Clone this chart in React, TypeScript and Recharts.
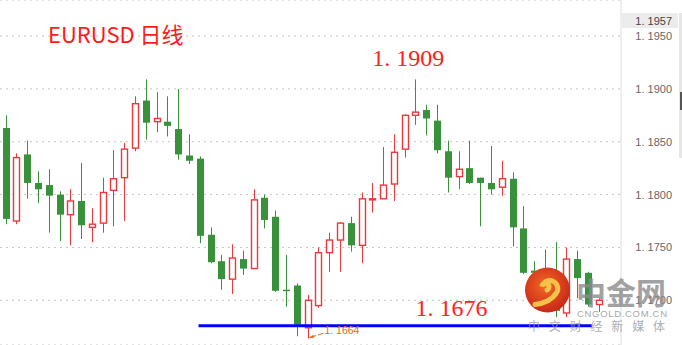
import React from "react";
import {
  Bar,
  CartesianGrid,
  ComposedChart,
  ReferenceDot,
  ReferenceLine,
  XAxis,
  YAxis,
} from "recharts";

// EURUSD daily candles, 13 Jul – 28 Sep 2021
const days = [
  "07-13", "07-14", "07-15", "07-16", "07-19", "07-20", "07-21", "07-22", "07-23",
  "07-26", "07-27", "07-28", "07-29", "07-30", "08-02", "08-03", "08-04", "08-05",
  "08-06", "08-09", "08-10", "08-11", "08-12", "08-13", "08-16", "08-17", "08-18",
  "08-19", "08-20", "08-23", "08-24", "08-25", "08-26", "08-27", "08-30", "08-31",
  "09-01", "09-02", "09-03", "09-06", "09-07", "09-08", "09-09", "09-10", "09-13",
  "09-14", "09-15", "09-16", "09-17", "09-20", "09-21", "09-22", "09-23", "09-24",
  "09-27", "09-28",
];
const opens = [
  1.1863, 1.1775, 1.1838, 1.1811, 1.1809, 1.18, 1.1781, 1.1794, 1.1769, 1.1773,
  1.1804, 1.1816, 1.1844, 1.1889, 1.1869, 1.1869, 1.1862, 1.1837, 1.1834, 1.1762,
  1.1737, 1.172, 1.1739, 1.173, 1.1797, 1.1779, 1.171, 1.1714, 1.1674, 1.1695,
  1.1745, 1.1757, 1.1773, 1.1752, 1.1795, 1.1796, 1.181, 1.1843, 1.1875, 1.188,
  1.187, 1.1841, 1.1817, 1.1825, 1.1816, 1.1811, 1.1807, 1.1815, 1.1768, 1.1728,
  1.1726, 1.1726, 1.1688, 1.1739, 1.1726, 1.1696,
];
const highs = [
  1.1875, 1.1839, 1.1851, 1.1822, 1.1824, 1.1803, 1.1805, 1.183, 1.1787, 1.1816,
  1.1842, 1.1849, 1.1893, 1.1909, 1.1897, 1.1893, 1.19, 1.1857, 1.1836, 1.1769,
  1.1743, 1.1753, 1.1747, 1.1805, 1.18, 1.1785, 1.1743, 1.1716, 1.1705, 1.175,
  1.1764, 1.1774, 1.1779, 1.1802, 1.1811, 1.1845, 1.1857, 1.1876, 1.1909, 1.1885,
  1.1885, 1.1851, 1.1841, 1.1851, 1.1816, 1.1846, 1.1832, 1.1821, 1.1789, 1.1737,
  1.1748, 1.1755, 1.175, 1.1747, 1.1727, 1.1702,
];
const lows = [
  1.1772, 1.1772, 1.1796, 1.1792, 1.1764, 1.1756, 1.1752, 1.1758, 1.1755, 1.1764,
  1.177, 1.1775, 1.1841, 1.1852, 1.1859, 1.1855, 1.1833, 1.1829, 1.1754, 1.1735,
  1.171, 1.1706, 1.1724, 1.173, 1.1768, 1.1708, 1.1694, 1.1666, 1.1664, 1.1693,
  1.1727, 1.1727, 1.1746, 1.1735, 1.1783, 1.1796, 1.1794, 1.1835, 1.1866, 1.1856,
  1.1839, 1.1802, 1.1805, 1.181, 1.177, 1.18, 1.1799, 1.1751, 1.1725, 1.1702,
  1.171, 1.1684, 1.1684, 1.1702, 1.1694, 1.1689,
];
const closes = [
  1.1777, 1.1835, 1.1811, 1.1805, 1.1799, 1.1781, 1.1794, 1.1771, 1.1772, 1.1802,
  1.1815, 1.1843, 1.1886, 1.1868, 1.1872, 1.1865, 1.1838, 1.1832, 1.1761, 1.1736,
  1.172, 1.174, 1.173, 1.1795, 1.1776, 1.1709, 1.1709, 1.1677, 1.17, 1.1745,
  1.1757, 1.1773, 1.1752, 1.1796, 1.1796, 1.1809, 1.184, 1.1875, 1.1878, 1.1872,
  1.1842, 1.1816, 1.1824, 1.1811, 1.1811, 1.1805, 1.1815, 1.1769, 1.1726, 1.1726,
  1.1722, 1.169, 1.1739, 1.1721, 1.1696, 1.17,
];
const yTicks = [1.17, 1.175, 1.18, 1.185, 1.19, 1.195];
const lastPrice = 1.1957;
const support = 1.1676;
const highIdx = 38;
const lowIdx = 28;

const UP = "#e8393f";
const DOWN = "#3a913c";
const fmt = (v: number) => v.toFixed(4).replace(".", ". ");

const data = days.map((day, i) => ({
  day,
  range: [lows[i], highs[i]],
  open: opens[i],
  high: highs[i],
  low: lows[i],
  close: closes[i],
}));

function Candle(props: any) {
  const { x, y, width, height, payload } = props;
  const { open, close, high, low } = payload;
  const top = Math.min(y, y + height);
  const bottom = Math.max(y, y + height);
  const yOf = (p: number) => top + ((high - p) / (high - low)) * (bottom - top);
  const cx = Math.round(x + width / 2) + 0.5;
  const up = close >= open;
  const color = up ? UP : DOWN;
  const bTop = yOf(Math.max(open, close));
  const bBot = yOf(Math.min(open, close));
  const bw = 7;
  return (
    <g>
      <line x1={cx} x2={cx} y1={top} y2={bottom} stroke={color} strokeWidth={1} />
      {up ? (
        <rect
          x={cx - bw / 2 + 0.5}
          y={bTop}
          width={bw - 1}
          height={Math.max(bBot - bTop, 1)}
          fill="#fff"
          stroke={color}
          strokeWidth={1.4}
        />
      ) : (
        <rect
          x={cx - bw / 2}
          y={bTop}
          width={bw}
          height={Math.max(bBot - bTop, 1.5)}
          fill={color}
        />
      )}
    </g>
  );
}

const YTick = (props: any) => (
  <text
    x={props.x + 43}
    y={props.y}
    dy={4}
    textAnchor="end"
    fontSize={11}
    fill="#666"
    fontFamily="Liberation Sans, Arial, sans-serif"
  >
    {fmt(props.payload.value)}
  </text>
);

export default function App() {
  return (
    <div
      style={{
        position: "fixed",
        left: 0,
        top: 0,
        width: 682,
        height: 345,
        background: "#fff",
        overflow: "hidden",
      }}
    >
      <ComposedChart
        width={682}
        height={345}
        data={data}
        margin={{ top: 0, right: 0, bottom: 0, left: 0 }}
      >
        <CartesianGrid
          vertical={false}
          stroke="#c4c4c4"
          strokeDasharray="2 4"
        />
        <XAxis dataKey="day" hide padding={{ left: 0, right: 17 }} />
        <YAxis
          orientation="right"
          width={61}
          domain={[1.16577, 1.19841]}
          ticks={yTicks}
          allowDataOverflow
          tickLine={false}
          axisLine={{ stroke: "#dedede" }}
          tick={<YTick />}
        />
        <Bar
          dataKey="range"
          shape={<Candle />}
          isAnimationActive={false}
        />
        <ReferenceLine
          segment={[
            { x: days[18], y: support },
            { x: days[54], y: support },
          ]}
          shape={(p: any) => (
            <line
              x1={p.x1 - 1}
              x2={p.x2 + 4}
              y1={p.y1}
              y2={p.y2}
              stroke="#0000ff"
              strokeWidth={3}
            />
          )}
        />
        <ReferenceDot
          x={days[highIdx]}
          y={highs[highIdx]}
          shape={(p: any) => (
            <text
              x={p.cx - 7}
              y={p.cy - 13}
              textAnchor="middle"
              fontSize={24}
              fill="#ff2020"
              fontFamily="Liberation Serif, Times New Roman, serif"
            >
              {fmt(highs[highIdx])}
            </text>
          )}
        />
        <ReferenceDot
          x={days[41]}
          y={support}
          shape={(p: any) => (
            <text
              x={p.cx + 4}
              y={p.cy - 10}
              textAnchor="middle"
              fontSize={24}
              fill="#ff2020"
              fontFamily="Liberation Serif, Times New Roman, serif"
            >
              {fmt(support)}
            </text>
          )}
        />
        <ReferenceDot
          x={days[lowIdx]}
          y={lows[lowIdx]}
          shape={(p: any) => (
            <g>
              <line
                x1={p.cx + 3}
                y1={p.cy - 1}
                x2={p.cx + 16}
                y2={p.cy - 5}
                stroke="#e8680a"
                strokeWidth={1}
                strokeDasharray="6 2"
              />
              <path
                d={`M ${p.cx + 1} ${p.cy} l 5 -3.5 l 0.5 3 z`}
                fill="#e8680a"
              />
              <text
                x={p.cx + 17}
                y={p.cy - 4}
                fontSize={10.5}
                fill="#e8680a"
                fontFamily="Liberation Sans, Arial, sans-serif"
              >
                {fmt(lows[lowIdx])}
              </text>
            </g>
          )}
        />
      </ComposedChart>

      <svg
        width={682}
        height={345}
        style={{ position: "absolute", left: 0, top: 0, pointerEvents: "none" }}
      >
        <defs>
          <radialGradient id="logoFill" cx="45%" cy="40%" r="60%">
            <stop offset="0%" stopColor="#f36a22" />
            <stop offset="100%" stopColor="#c9271b" />
          </radialGradient>
        </defs>
        <text
          x={48}
          y={42.5}
          fontSize={22}
          fill="#ff1a1a"
          fontFamily="Noto Sans CJK SC, sans-serif"
        >
          EURUSD 日线
        </text>
        <rect x={622} y={13} width={56} height={15} fill="#ececec" />
        <text
          x={672}
          y={24.5}
          textAnchor="end"
          fontSize={11}
          fill="#444"
          fontFamily="Liberation Sans, Arial, sans-serif"
        >
          {fmt(lastPrice)}
        </text>
        <rect x={679} y={13} width={3} height={145} fill="#e6e6e6" />
        <rect x={680} y={92} width={2} height={18} fill="#555" />

        <circle cx={547.5} cy={290} r={22.5} fill="url(#logoFill)" />
        <path
          d="M 547 290 a 3.5 3.5 0 1 0 -5 -3.5 a 8 8 0 1 1 14 7 q -6 9 -21 11"
          fill="none"
          stroke="#f6c24a"
          strokeWidth={5}
          strokeLinecap="round"
        />
        <text
          x={576}
          y={304}
          fontSize={30}
          fontWeight={700}
          fill="#8c8c8c"
          opacity={0.8}
          fontFamily="Noto Sans CJK SC, sans-serif"
        >
          中金网
        </text>
        <text
          x={577}
          y={317}
          fontSize={9.5}
          textLength={90}
          lengthAdjust="spacing"
          fill="#9a9a9a"
          opacity={0.85}
          fontFamily="Liberation Sans, Arial, sans-serif"
        >
          CNGOLD.COM.CN
        </text>
        <text
          x={528}
          y={331}
          fontSize={12}
          textLength={137}
          lengthAdjust="spacing"
          fill="#9a9a9a"
          opacity={0.8}
          fontFamily="Noto Sans CJK SC, sans-serif"
        >
          中文财经新媒体
        </text>
      </svg>
    </div>
  );
}
